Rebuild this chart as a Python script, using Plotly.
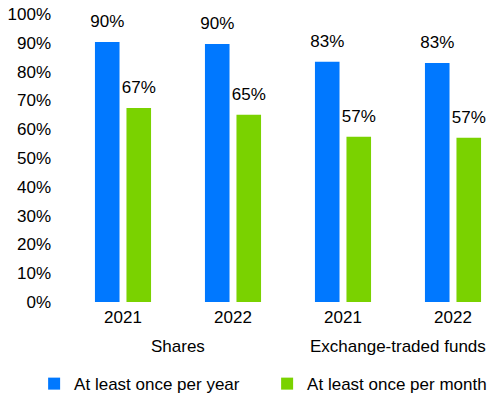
import plotly.graph_objects as go

groups = ["Shares", "Exchange-traded funds"]
years = ["2021", "2022", "2021", "2022"]
x_pos = [0, 1, 2, 3]
group_centers = [0.5, 2.5]
series_names = ["At least once per year", "At least once per month"]
per_year = [90.3, 89.6, 83.4, 83.0]
per_month = [67.4, 65.0, 57.4, 57.0]
y_ticks = [0, 10, 20, 30, 40, 50, 60, 70, 80, 90, 100]
y_tick_labels = [f"{v}%" for v in y_ticks]

BLUE = "#0078FF"
GREEN = "#7AD200"
FONT = "Liberation Sans, Arial, sans-serif"
FS = 17
GAP = 0.427

fig = go.Figure()
series = [(series_names[0], per_year, BLUE), (series_names[1], per_month, GREEN)]
for i, (name, vals, col) in enumerate(series):
    fig.add_trace(go.Bar(
        x=x_pos, y=vals, name=name, marker_color=col, marker_line_width=0,
        offsetgroup=str(i), hoverinfo="skip",
    ))
for i, (name, vals, col) in enumerate(series):
    fig.add_trace(go.Scatter(
        x=x_pos, y=vals, mode="markers+text", showlegend=False,
        offsetgroup=str(i), hoverinfo="skip",
        marker=dict(size=15, opacity=0),
        texttemplate="%{y:.0f}%", textposition="top center",
        textfont=dict(family=FONT, size=FS, color="#000000"),
        cliponaxis=False,
    ))

for gname, gx in zip(groups, group_centers):
    fig.add_annotation(x=gx, xref="x", y=-0.155, yref="paper", text=gname,
                       showarrow=False, yanchor="middle", xanchor="center",
                       font=dict(family=FONT, size=FS, color="#000000"))

fig.update_layout(
    width=560, height=398,
    margin=dict(l=68, r=52, t=14, b=96, autoexpand=False),
    paper_bgcolor="white", plot_bgcolor="white",
    barmode="group", bargap=GAP, bargroupgap=0.22,
    scattermode="group", scattergap=GAP,
    font=dict(family=FONT, size=FS, color="#000000"),
    showlegend=True,
    legend=dict(orientation="h", x=-0.077, xanchor="left", y=-0.285, yanchor="middle",
                entrywidth=188, entrywidthmode="pixels",
                font=dict(family=FONT, size=FS, color="#000000"), itemwidth=30),
)
fig.update_xaxes(range=[-0.5, 3.5], tickvals=x_pos, ticktext=years,
                 showgrid=False, showline=False, zeroline=False,
                 ticklabelstandoff=3,
                 tickfont=dict(family=FONT, size=FS, color="#000000"))
fig.update_yaxes(range=[0, 100], tickvals=y_ticks, ticktext=y_tick_labels,
                 showgrid=False, showline=False, zeroline=False,
                 ticklabelstandoff=16,
                 tickfont=dict(family=FONT, size=FS, color="#000000"))

fig.write_html("out.html", config={"displayModeBar": False},
               post_script="document.body.style.margin='0';document.body.style.overflow='hidden';document.documentElement.style.overflow='hidden';")
